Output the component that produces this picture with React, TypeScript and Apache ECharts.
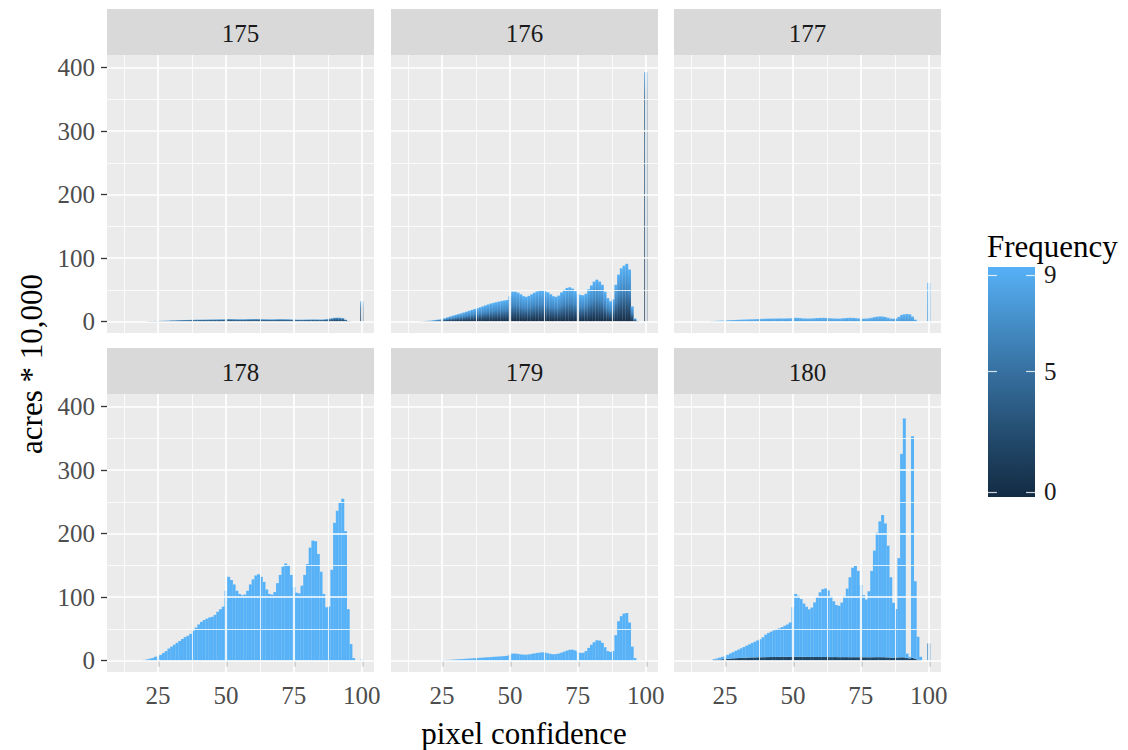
import React, { useEffect, useRef } from "react";
import * as echarts from "echarts";

// pixel-confidence bins (x)
const bins = [15,16,17,18,19,20,21,22,23,24,25,26,27,28,29,30,31,32,33,34,35,36,37,38,39,40,41,42,43,44,45,46,47,48,49,50,51,52,53,54,55,56,57,58,59,60,61,62,63,64,65,66,67,68,69,70,71,72,73,74,75,76,77,78,79,80,81,82,83,84,85,86,87,88,89,90,91,92,93,94,95,96,97,98,99,100];

const panelNames = ["175", "176", "177", "178", "179", "180"];

// acres * 10,000 per bin, one array per panel
const v175 = [0,0,0,0,0,0,0.5,0.7,0.8,1,1,1.2,1.3,1.5,1.7,2,2,2.2,2.3,2.4,2.5,2.6,2.7,2.8,2.9,3,3,3.1,3.2,3.3,3.3,3.4,3.5,3.5,3.6,3.8,4,3.9,3.8,3.7,3.6,3.6,3.7,3.8,3.9,4,4,3.9,3.8,3.7,3.6,3.5,3.5,3.6,3.7,3.8,3.8,3.7,3.6,3.4,3.2,3.1,3,3,3.1,3.2,3.3,3.4,3.4,3.3,3.2,3.4,3.8,4.5,5.2,6,6.2,6,5.5,3,1,0.3,0,0,0,32];
const v176 = [0,0,0.3,0.6,1,1.3,1.7,2.2,2.7,3.3,4,5.3,6.6,8,9.3,10.5,11.8,13,14.3,15.6,17,18.4,19.7,21,22.5,24,25.5,27,28.5,29.5,30.5,31.5,32.5,33.3,34,40,47,47,45.5,43,40,39,40.5,43,45.5,47.5,49,49,47.5,46,43,40,39,41,46,50,53,54,52,48,44,42,41.5,44,51,57,63,66,63,58,47,37,32,35,58,74,84,88,91,82,24,5,1,0,0,393];
const v177 = [0,0,0,0,0,0.8,1,1.2,1.4,1.6,1.8,2,2.2,2.4,2.6,2.8,3,3.2,3.4,3.5,3.6,3.8,4,4.2,4.4,4.5,4.6,4.7,4.8,4.8,4.9,5,5,5.1,5.2,5.6,6,5.8,5.4,5,4.8,4.8,5,5.3,5.6,5.8,5.9,5.8,5.5,5.2,4.9,4.7,4.7,5,5.4,5.8,6,5.9,5.5,5,4.7,4.6,4.8,5.3,6,7,7.8,8.2,8,7.2,6,4.8,4.5,5,7.5,10.5,11.5,12,11.5,8,3,1,0,0,0,61];
const v178 = [0,0,0,0,0,1,2,3,4,6,7,9,12,15,19,22,25,28,31,34,37,39,42,47,52,57,61,64,66,68,69,72,77,81,85,110,132,127,120,110,105,103,104,110,120,128,134,136,132,124,112,105,104,108,122,135,148,153,150,135,116,107,106,118,135,152,178,189,188,168,140,105,84,85,143,217,236,249,255,204,81,26,4,0,0,2];
const v179 = [0,0,0,0,0,0,0,0,0,0,0.5,0.7,1,1.2,1.5,1.8,2,2.3,2.6,2.9,3.2,3.5,3.8,4.1,4.4,4.7,5,5.3,5.6,5.9,6.2,6.5,6.8,7.1,7.5,9.5,11,11,10.5,9.8,9.3,9.3,9.8,10.5,11.3,12,12.7,13,12.5,11.5,10.5,10,10.3,11.2,12.5,14,15.8,17,17.2,16,13.5,12,12.3,15,20,25,29,32,31.5,28,21,15,13.5,15,40,62,70,74,75,60,22,4,0.5,0,0,1];
const v180Low = [0,0,0,0,0,0,0.8,1.2,1.6,2,2.4,2.8,3.2,3.5,3.8,4,4.2,4.4,4.6,4.8,5,5,5.2,5.2,5.3,5.4,5.5,5.6,5.6,5.7,5.8,5.8,5.9,5.9,6,6,6,6,5.9,5.9,5.8,5.8,5.7,5.7,5.6,5.6,5.6,5.6,5.5,5.5,5.5,5.5,5.4,5.4,5.4,5.4,5.3,5.3,5.3,5.3,5.2,5.2,5.2,5.2,5.2,5.3,5.4,5.4,5.3,5.2,5,4.8,4.6,4.8,5,5.2,5,4,3.5,4.5,3,1.5,0.5,0,0,0];
const v180High = [0,0,0,0,0,0,1.5,2.2,3,3.8,5,6.2,8,9.8,11.6,13.4,15.2,17,19,20.8,22.8,24.7,26.6,28.5,31.5,35.4,38,40,42,44,45,47,49,51,54,78,99,96,91,84,79,75,78,86,95,102,107,108,105,96,88,82,81,86,96,108,126,141,144,136,114,98,91,104,136,168,196,214,224,211,176,126.5,86.5,76.5,156.5,320.5,376.5,7,2.5,349,122,36,5.5,0,0,27];

const yTicks = [0, 100, 200, 300, 400];
const yMinor = [50, 150, 250, 350];
const xTicks = [25, 50, 75, 100];
const xMinor = [12.5, 37.5, 62.5, 87.5];
const freqTicks = [0, 5, 9];

const FONT = "'Liberation Serif', 'DejaVu Serif', serif";
const LIGHT = "#56B1F7";
const DARK = "#132B43";

const grad = (stops: [number, string][]) =>
  new echarts.graphic.LinearGradient(0, 0, 0, 1, stops.map(([offset, color]) => ({ offset, color })));

export default function App() {
  const ref = useRef<HTMLDivElement>(null);
  useEffect(() => {
    document.body.style.margin = "0";
    const chart = echarts.init(ref.current!, null, { renderer: "svg" });

    const colLeft = [107, 391, 674];
    const rowTop = [55, 394];
    const PW = 267;
    const PH = 278;
    const STRIP = 46;

    const grids: any[] = [];
    const xAxes: any[] = [];
    const yAxes: any[] = [];
    const series: any[] = [];
    const graphics: any[] = [];

    const g175 = grad([[0, "#5AA5E2"], [0.45, "#2E6593"], [1, "#18344F"]]);
    const g175spike = grad([[0, LIGHT], [0.3, "#2F6592"], [1, "#1A3753"]]);
    const g176 = grad([[0, LIGHT], [0.45, "#3F86C2"], [0.8, "#24496D"], [1, DARK]]);
    const g176spike = grad([[0, "#4D9EDD"], [0.1, "#2A5A84"], [1, "#1B3A58"]]);
    const g177 = grad([[0, "#5DB4F7"], [1, "#4A97D4"]]);

    const fillFor: ((x: number) => any)[] = [
      (x) => (x === 100 ? g175spike : g175),
      (x) => (x === 100 ? g176spike : g176),
      () => g177,
      () => LIGHT,
      () => LIGHT,
      (x) => (x === 100 ? "#3F86C2" : LIGHT),
    ];

    // each bin drawn as a rectangle spanning [x-0.5, x+0.5] on the panel's own scales
    const makeRender = (fill: (x: number) => any, baseFill: string | null) => (params: any, api: any) => {
      const x = api.value(0);
      const base = api.value(1);
      const h = api.value(2);
      const children: any[] = [];
      const pL = api.coord([x - 0.5, 0]);
      const pR = api.coord([x + 0.5, 0]);
      const left = pL[0] - 0.15;
      const width = pR[0] - pL[0] + 0.3;
      if (baseFill && base > 0) {
        const top0 = api.coord([x, base])[1];
        children.push({ type: "rect", shape: { x: left, y: top0, width, height: pL[1] - top0 }, style: { fill: baseFill } });
      }
      if (h > 0) {
        const yb = api.coord([x, base])[1];
        const yt = api.coord([x, base + h])[1];
        children.push({
          type: "rect",
          shape: { x: left, y: yt, width, height: yb - yt },
          style: { fill: fill(x), stroke: "rgba(240,248,255,0.16)", lineWidth: 0.4 },
        });
      }
      return { type: "group", children };
    };

    const panelData = [
      bins.map((b, k) => [b, 0, v175[k]]),
      bins.map((b, k) => [b, 0, v176[k]]),
      bins.map((b, k) => [b, 0, v177[k]]),
      bins.map((b, k) => [b, 0, v178[k]]),
      bins.map((b, k) => [b, 0, v179[k]]),
      bins.map((b, k) => [b, v180Low[k], v180High[k]]),
    ];

    for (let i = 0; i < 6; i++) {
      const col = i % 3;
      const row = Math.floor(i / 3);
      const left = colLeft[col];
      const top = rowTop[row];
      grids.push({ left, top, width: PW, height: PH, show: true, backgroundColor: "#EBEBEB", borderWidth: 0, containLabel: false });
      xAxes.push({
        type: "value", gridIndex: i, min: 6.2, max: 104.5,
        splitLine: { show: false }, axisLine: { show: false },
        axisTick: { show: row === 1, customValues: xTicks, length: 6, lineStyle: { color: "#333333", width: 1.3 } },
        axisLabel: { show: row === 1, customValues: xTicks, fontSize: 25, color: "#4D4D4D", fontFamily: FONT, margin: 11 },
      });
      yAxes.push({
        type: "value", gridIndex: i, min: -18, max: 420,
        splitLine: { show: false }, axisLine: { show: false },
        axisTick: { show: col === 0, customValues: yTicks, length: 6, lineStyle: { color: "#333333", width: 1.3 } },
        axisLabel: { show: col === 0, customValues: yTicks, fontSize: 25, color: "#4D4D4D", fontFamily: FONT, margin: 12 },
      });
      const ml: any[] = [];
      xMinor.forEach((v) => ml.push({ xAxis: v, lineStyle: { color: "#FFFFFF", width: 0.8, type: "solid" } }));
      xTicks.forEach((v) => ml.push({ xAxis: v, lineStyle: { color: "#FFFFFF", width: 1.7, type: "solid" } }));
      yMinor.forEach((v) => ml.push({ yAxis: v, lineStyle: { color: "#FFFFFF", width: 0.8, type: "solid" } }));
      yTicks.forEach((v) => ml.push({ yAxis: v, lineStyle: { color: "#FFFFFF", width: 1.7, type: "solid" } }));
      series.push({
        type: "line", xAxisIndex: i, yAxisIndex: i, z: 1, silent: true,
        data: [[50, 0]], showSymbol: false, lineStyle: { opacity: 0 },
        markLine: { silent: true, symbol: ["none", "none"], label: { show: false }, animation: false, data: ml },
      });
      series.push({
        type: "custom", name: panelNames[i], xAxisIndex: i, yAxisIndex: i, z: 2, clip: true,
        data: panelData[i],
        encode: { x: 0, y: 2 },
        renderItem: makeRender(fillFor[i], i === 5 ? "#1E4565" : null),
      });
      graphics.push({ type: "rect", shape: { x: left, y: top - STRIP, width: PW, height: STRIP }, style: { fill: "#D9D9D9" }, silent: true });
      graphics.push({
        type: "text", x: left + PW / 2, y: top - STRIP / 2 + 1,
        style: { text: panelNames[i], fontSize: 25, fontFamily: FONT, fill: "#1A1A1A", align: "center", verticalAlign: "middle" },
        silent: true,
      });
    }

    // colour bar legend
    grids.push({
      left: 988, top: 267, width: 47, height: 230, show: true, borderWidth: 0,
      backgroundColor: grad([[0, LIGHT], [0.25, "#448DC6"], [0.5, "#336A98"], [0.75, "#22496B"], [1, DARK]]),
    });
    xAxes.push({ type: "value", gridIndex: 6, show: false, min: 0, max: 1 });
    yAxes.push({
      type: "value", gridIndex: 6, position: "right", min: -0.21, max: 9.33,
      splitLine: { show: false }, axisLine: { show: false }, axisTick: { show: false },
      axisLabel: { show: true, customValues: freqTicks, fontSize: 25, color: "#1A1A1A", fontFamily: FONT, margin: 9 },
    });
    const tickLines: any[] = [];
    freqTicks.forEach((f) => {
      tickLines.push([{ coord: [0, f] }, { coord: [0.19, f] }]);
      tickLines.push([{ coord: [0.81, f] }, { coord: [1, f] }]);
    });
    series.push({
      type: "line", xAxisIndex: 6, yAxisIndex: 6, z: 3, silent: true,
      data: [[0.5, 0]], showSymbol: false, lineStyle: { opacity: 0 },
      markLine: {
        silent: true, symbol: ["none", "none"], label: { show: false }, animation: false,
        lineStyle: { color: "rgba(255,255,255,0.8)", width: 1.2, type: "solid" },
        data: tickLines,
      },
    });

    graphics.push({
      type: "text", x: 524, y: 733,
      style: { text: "pixel confidence", fontSize: 31, fontFamily: FONT, fill: "#000000", align: "center", verticalAlign: "middle" },
      silent: true,
    });
    graphics.push({
      type: "text", x: 31, y: 364, rotation: Math.PI / 2,
      style: { text: "acres * 10,000", fontSize: 31, fontFamily: FONT, fill: "#000000", align: "center", verticalAlign: "middle" },
      silent: true,
    });
    graphics.push({
      type: "text", x: 987, y: 246,
      style: { text: "Frequency", fontSize: 31, fontFamily: FONT, fill: "#000000", align: "left", verticalAlign: "middle" },
      silent: true,
    });

    chart.setOption({
      animation: false,
      backgroundColor: "#FFFFFF",
      grid: grids,
      xAxis: xAxes,
      yAxis: yAxes,
      series,
      graphic: graphics,
    });
    return () => chart.dispose();
  }, []);
  return <div ref={ref} style={{ width: 1128, height: 750 }} />;
}
